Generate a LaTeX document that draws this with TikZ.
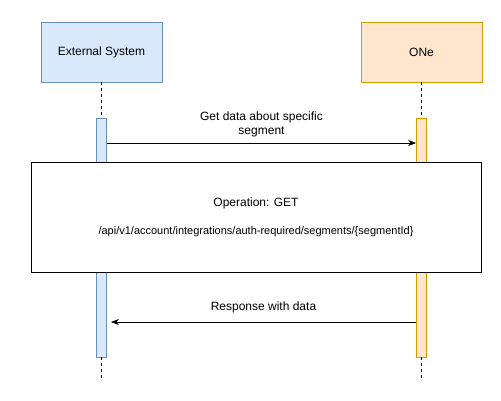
\documentclass[tikz,border=0pt]{standalone}
\usepackage{fontspec}
\setmainfont{Liberation Sans}
\usetikzlibrary{arrows.meta}
\definecolor{bluefill}{HTML}{DAE8FC}
\definecolor{bluedraw}{HTML}{6C8EBF}
\definecolor{orangefill}{HTML}{FFE6CC}
\definecolor{orangedraw}{HTML}{D79B00}
\begin{document}
\begin{tikzpicture}[x=1pt,y=-1pt,
  actorblue/.style={draw=bluedraw, fill=bluefill, line width=0.8pt, minimum width=121pt, minimum height=60pt, inner sep=0pt, font=\fontsize{12}{14}\selectfont},
  actororange/.style={draw=orangedraw, fill=orangefill, line width=0.8pt, minimum width=121pt, minimum height=60pt, inner sep=0pt, font=\fontsize{12}{14}\selectfont},
  barblue/.style={draw=bluedraw, fill=bluefill, line width=0.8pt, minimum width=10pt, minimum height=239pt, inner sep=0pt},
  barorange/.style={draw=orangedraw, fill=orangefill, line width=0.8pt, minimum width=10pt, minimum height=239pt, inner sep=0pt},
  life/.style={dashed, dash pattern=on 3pt off 3pt, line width=0.8pt},
  msg/.style={-{Stealth[length=8pt,width=6pt]}, line width=0.8pt},
  lbl/.style={font=\fontsize{12}{14}\selectfont, align=center}
]
\useasboundingbox (0,0) rectangle (501,401);
\node[actorblue] (ext) at (101.5,52) {External System};
\node[actororange] (one) at (421.5,52) {ONe};
\node[barblue] (extbar) at (101.5,237.5) {};
\node[barorange] (onebar) at (421.5,237.5) {};
\coordinate (extend) at (101.5,381);
\coordinate (oneend) at (421.5,381);
\draw[life] (ext.south) -- (extbar.north);
\draw[life] (one.south) -- (onebar.north);
\draw[life] (extbar.south) -- (extend);
\draw[life] (onebar.south) -- (oneend);
\draw[msg] (extbar.east |- 0,143) -- node[lbl, above=2pt] {Get data about specific\\segment} (onebar.west |- 0,143);
\draw[msg] (onebar.west |- 0,322) -- node[lbl, above=5pt] {Response with data} ([xshift=4pt]extbar.east |- 0,322);
\node[draw, fill=white, line width=0.8pt, minimum width=450pt, minimum height=110pt, inner sep=0pt] (op) at (256,217) {};
\node[lbl] (optitle) at (256,203) {Operation: GET};
\node[font=\fontsize{11}{13}\selectfont] (oppath) at (256,232) {/api/v1/account/integrations/auth-required/segments/\{segmentId\}};
\end{tikzpicture}
\end{document}
